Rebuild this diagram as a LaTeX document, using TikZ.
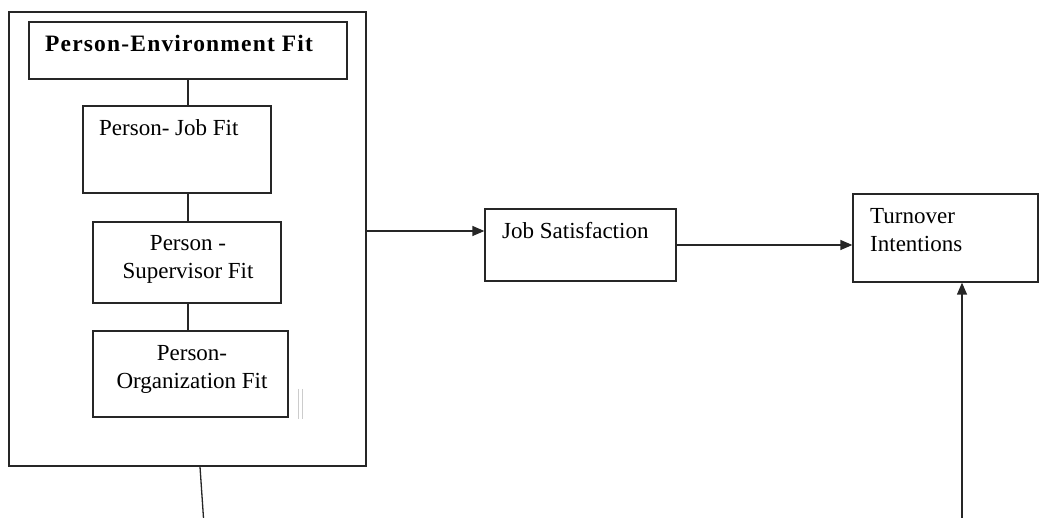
\documentclass[tikz,border=0pt]{standalone}
\usepackage{fontspec}
\setmainfont{Liberation Serif}
\usetikzlibrary{arrows.meta}
\tikzset{
  box/.style={draw=black!85, line width=1.3pt, rectangle, inner sep=0pt},
  txt/.style={inner sep=0pt, font=\fontsize{23}{28.5}\selectfont},
  link/.style={draw=black!85, line width=1.3pt},
  arr/.style={link, -{Triangle[length=12pt,width=10pt]}}
}
\begin{document}
\begin{tikzpicture}[x=1pt,y=-1pt]
\useasboundingbox (0,0) rectangle (1039,518);
% boxes
\node[box, minimum width=357pt, minimum height=454pt] (outer) at (187.5,239) {};
\node[box, minimum width=318pt, minimum height=57pt] (pe) at (188,50.5) {};
\node[box, minimum width=188pt, minimum height=87pt] (job) at (177,149.5) {};
\node[box, minimum width=188pt, minimum height=81pt] (sup) at (187,262.5) {};
\node[box, minimum width=195pt, minimum height=86pt] (org) at (190.5,374) {};
\node[box, minimum width=191pt, minimum height=72pt] (js) at (580.5,245) {};
\node[box, minimum width=185pt, minimum height=88pt] (to) at (945.5,238) {};
% texts
\node[txt, anchor=base west, font=\fontsize{23.5}{28.5}\selectfont\bfseries\addfontfeature{LetterSpace=5}] (tpe) at (45,52) {Person-Environment Fit};
\node[txt, anchor=base west] (tjob) at (99,136) {Person- Job Fit};
\node[txt, anchor=base, align=center] (tsup) at (188,279) {Person -\\Supervisor Fit};
\node[txt, anchor=base, align=center] (torg) at (192,389) {Person-\\Organization Fit};
\node[txt, anchor=base west] (tjs) at (502,239) {Job Satisfaction};
\node[txt, anchor=base west, align=left] (tto) at (870,252) {Turnover\\Intentions};
% inner connectors
\draw[link] (pe.south) -- (pe.south |- job.north);
\draw[link] (pe.south |- job.south) -- (pe.south |- sup.north);
\draw[link] (pe.south |- sup.south) -- (pe.south |- org.north);
% arrows
\coordinate (a) at ([yshift=14pt]js.west);
\draw[arr] (outer.east |- a) -- (a);
\draw[arr] (js.east) -- (js.east -| to.west);
\coordinate (b) at (962,518);
\draw[arr] (b) -- (b |- to.south);
\coordinate (c) at (203.5,518);
\draw[link] ([xshift=12.5pt]outer.south) -- (c);
% faint marks
\draw[black!20, line width=0.8pt] (298,389) -- (298,419) (302,389) -- (302,419);
\end{tikzpicture}
\end{document}
